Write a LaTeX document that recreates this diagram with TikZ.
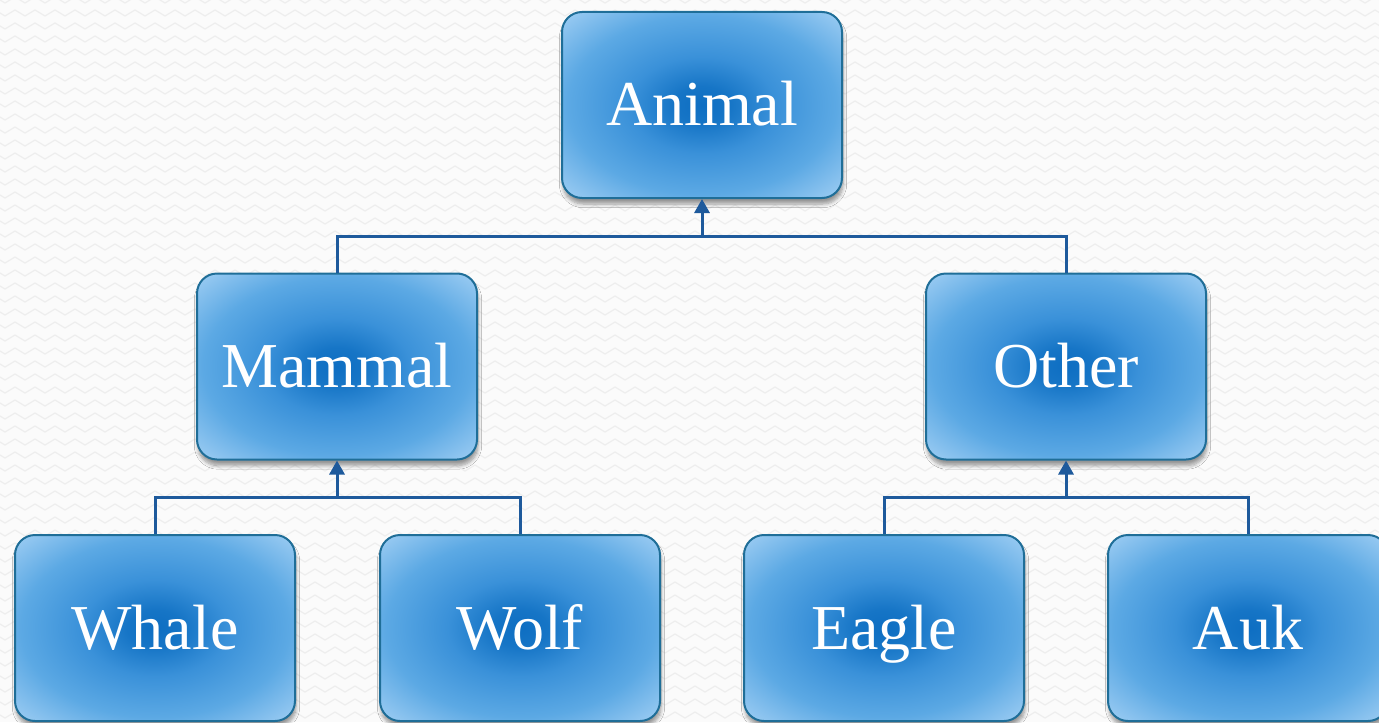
\documentclass[tikz,border=0pt]{standalone}
\usepackage{fontspec}
\setmainfont{Liberation Serif}
\usetikzlibrary{arrows.meta,shadows.blur,decorations.pathmorphing}
\definecolor{bgc}{HTML}{FBFBFB}
\definecolor{zig}{HTML}{EEEEEE}
\definecolor{bordc}{HTML}{1F6E98}
\definecolor{connc}{HTML}{1E5A9C}
\definecolor{sA}{HTML}{0E6EC2}
\definecolor{sB}{HTML}{1675C6}
\definecolor{sC}{HTML}{3A91D9}
\definecolor{sD}{HTML}{5CA9E4}
\definecolor{sE}{HTML}{A3D0F4}
\pgfdeclareradialshading{boxshade}{\pgfpointorigin}{color(0bp)=(sA); color(5bp)=(sB); color(13bp)=(sC); color(24bp)=(sD); color(36bp)=(sE)}
\tikzset{
  animalbox/.style={rectangle, rounded corners=10pt, draw=bordc, line width=1pt,
    shading=boxshade, minimum width=140pt, minimum height=93pt, inner sep=0pt,
    text=white, font=\fontsize{32}{36}\selectfont, text height=21pt, text depth=0pt,
    blur shadow={shadow xshift=0.5pt, shadow yshift=-3pt, shadow blur steps=6, shadow opacity=40}},
  conn/.style={draw=connc, line width=1.5pt},
  connarrow/.style={conn, -{Triangle[width=7.5pt,length=7pt]}}
}
\begin{document}
\begin{tikzpicture}[x=0.5pt,y=-0.5pt]
\fill[bgc] (0,0) rectangle (1379,722);
\useasboundingbox (0,0) rectangle (1379,722);
\foreach \r in {0,13,...,730}{
  \draw[zig, line width=0.6pt, decorate, decoration={zigzag, segment length=10pt, amplitude=1.5pt}] (-10,\r) -- (1390,\r);
}
\node[animalbox] (animal) at (702,105) {Animal};
\node[animalbox] (mammal) at (337,366.5) {Mammal};
\node[animalbox] (other) at (1066,366.5) {Other};
\node[animalbox] (whale) at (155,628) {Whale};
\node[animalbox] (wolf) at (520,628) {Wolf};
\node[animalbox] (eagle) at (884,628) {Eagle};
\node[animalbox] (auk) at (1248,628) {Auk};
\coordinate (j1) at (702,236);
\coordinate (j2) at (337,497);
\coordinate (j3) at (1066,497);
\draw[conn] (mammal.north) |- (j1) -| (other.north);
\draw[connarrow] (j1) -- (animal.south);
\draw[conn] (whale.north) |- (j2) -| (wolf.north);
\draw[connarrow] (j2) -- (mammal.south);
\draw[conn] (eagle.north) |- (j3) -| (auk.north);
\draw[connarrow] (j3) -- (other.south);
\end{tikzpicture}
\end{document}
